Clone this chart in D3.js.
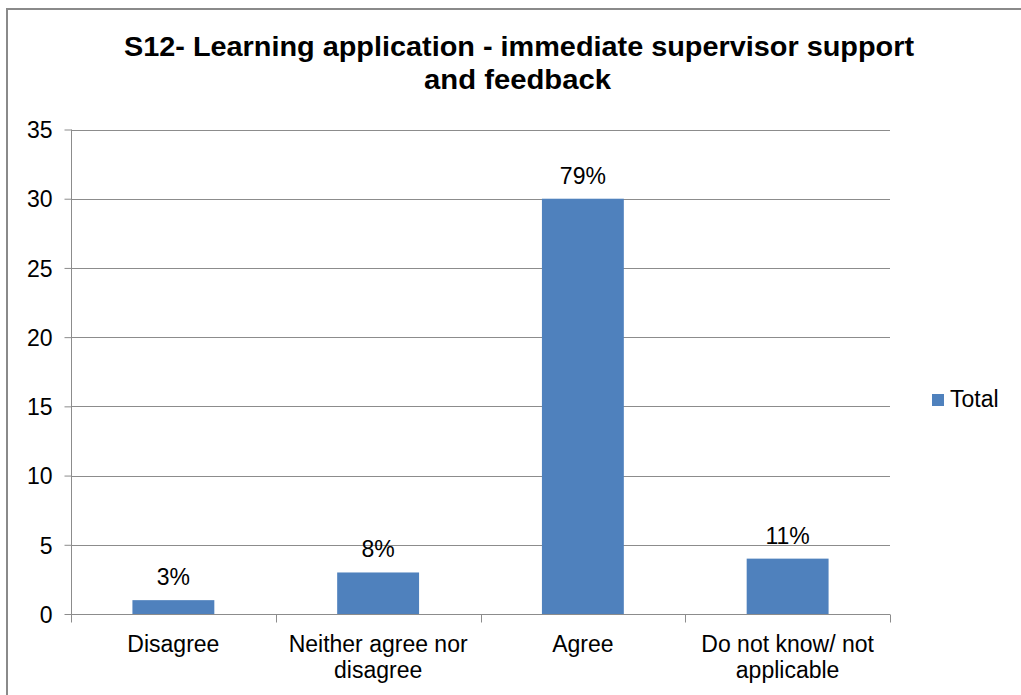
<!DOCTYPE html>
<html>
<head>
<meta charset="utf-8">
<script src="https://cdn.jsdelivr.net/npm/d3@7"></script>
<style>
  html, body { margin: 0; padding: 0; background: #fff; }
  svg { display: block; font-family: "Liberation Sans", Arial, sans-serif; }
</style>
</head>
<body>
<svg id="chart" width="1021" height="695"></svg>
<script>
// Survey responses: counts per answer, with the share printed above each bar
const categories = [["Disagree"], ["Neither agree nor", "disagree"], ["Agree"], ["Do not know/ not", "applicable"]];
const counts = [1, 3, 30, 4];
const shareLabels = ["3%", "8%", "79%", "11%"];
const yTicks = [0, 5, 10, 15, 20, 25, 30, 35];
const seriesName = "Total";
const titleLines = ["S12- Learning application - immediate supervisor support", "and feedback"];

const svg = d3.select("#chart");
const W = 1021, H = 695;
const plot = { left: 71, right: 890, top: 129.5, bottom: 614 };
const barColor = "#4F81BD";
const gridColor = "#8C8C8C";
const labelSize = 23;

// Frame
svg.append("rect").attr("x", 0).attr("y", 0).attr("width", W).attr("height", H).attr("fill", "#fff");
svg.append("path")
  .attr("d", `M7,${H} L7,9 L${W},9`)
  .attr("fill", "none").attr("stroke", "#8a8a8a").attr("stroke-width", 2);

// Title
const title = svg.append("g").attr("font-weight", "bold").attr("font-size", 28).attr("fill", "#000").attr("text-anchor", "middle");
title.append("text").attr("x", 519).attr("y", 56).text(titleLines[0])
  .attr("textLength", 790).attr("lengthAdjust", "spacingAndGlyphs");
title.append("text").attr("x", 517.5).attr("y", 89).text(titleLines[1])
  .attr("textLength", 187).attr("lengthAdjust", "spacingAndGlyphs");

// Scales
const x = d3.scaleBand().domain(d3.range(categories.length)).range([plot.left, plot.right]).paddingInner(0.6).paddingOuter(0.3);
const xBand = d3.scaleBand().domain(d3.range(categories.length)).range([plot.left, plot.right]);
const y = d3.scaleLinear().domain([0, 35]).range([plot.bottom, plot.top]);

// Gridlines
svg.append("g").selectAll("line").data(yTicks.filter(t => t > 0)).join("line")
  .attr("x1", plot.left).attr("x2", plot.right)
  .attr("y1", d => Math.round(y(d)) + 0.5).attr("y2", d => Math.round(y(d)) + 0.5)
  .attr("stroke", gridColor).attr("stroke-width", 1);

// Bars
svg.append("g").selectAll("rect").data(counts).join("rect")
  .attr("x", (d, i) => x(i))
  .attr("width", x.bandwidth())
  .attr("y", d => y(d))
  .attr("height", d => y(0) - y(d))
  .attr("fill", barColor);

// Y axis
const yAxis = svg.append("g").attr("transform", `translate(${plot.left + 0.5},0)`)
  .call(d3.axisLeft(y).tickValues(yTicks).tickSize(7).tickPadding(12).tickFormat(d3.format("d")));
yAxis.select(".domain").attr("stroke", gridColor).attr("d", `M0,${y(0)}V${y(35)}`);
yAxis.selectAll(".tick line").attr("stroke", gridColor);
yAxis.selectAll(".tick text").attr("font-size", labelSize).attr("fill", "#000")
  .attr("font-family", "Liberation Sans, Arial, sans-serif").attr("dy", "0.36em");

// X axis
const xAxis = svg.append("g").attr("transform", `translate(0,${Math.round(y(0)) + 0.5})`);
xAxis.append("line").attr("x1", plot.left).attr("x2", plot.right).attr("stroke", gridColor);
xAxis.selectAll("line.tk").data(d3.range(categories.length + 1)).join("line").attr("class", "tk")
  .attr("x1", i => Math.round(plot.left + i * xBand.bandwidth()) + 0.5)
  .attr("x2", i => Math.round(plot.left + i * xBand.bandwidth()) + 0.5)
  .attr("y1", 0).attr("y2", 8).attr("stroke", gridColor);

// Category labels
const catG = svg.append("g").attr("font-size", labelSize).attr("fill", "#000").attr("text-anchor", "middle");
categories.forEach((lines, i) => {
  const cx = xBand(i) + xBand.bandwidth() / 2;
  lines.forEach((ln, j) => {
    catG.append("text").attr("x", cx).attr("y", 652 + j * 26).text(ln);
  });
});

// Value labels
svg.append("g").attr("font-size", labelSize).attr("fill", "#000").attr("text-anchor", "middle")
  .selectAll("text").data(counts).join("text")
  .attr("x", (d, i) => x(i) + x.bandwidth() / 2)
  .attr("y", d => y(d) - 15)
  .text((d, i) => shareLabels[i]);

// Legend
const lg = svg.append("g").attr("transform", "translate(932,394)");
lg.append("rect").attr("width", 12).attr("height", 12).attr("fill", barColor);
lg.append("text").attr("x", 18).attr("y", 13).attr("font-size", labelSize).attr("fill", "#000").text(seriesName);
</script>
</body>
</html>
